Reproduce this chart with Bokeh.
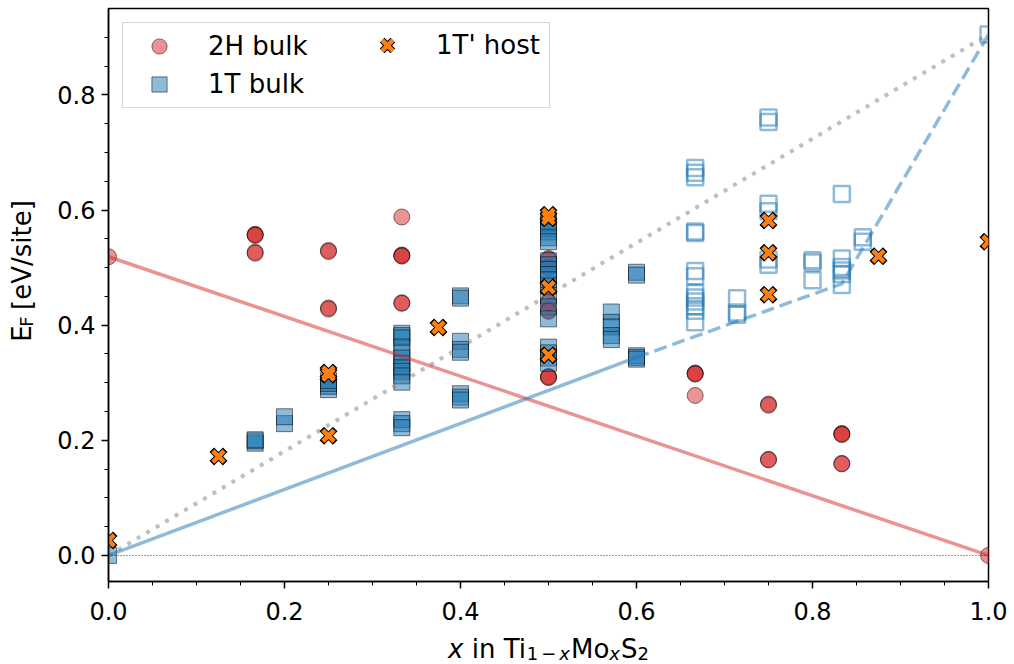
from math import pi
from bokeh.plotting import figure
from bokeh.layouts import row, column
from bokeh.models import Range1d, FixedTicker, Label, Legend, LegendItem, Span
from bokeh.embed import file_html
from bokeh.resources import INLINE
from bokeh.core.properties import value

# ---------------- data ----------------
# 2H bulk (red circles)
h2_x = [0.0,
        1/6, 1/6, 1/6, 1/6, 1/6,
        0.25, 0.25, 0.25, 0.25,
        1/3, 1/3, 1/3, 1/3, 1/3, 1/3,
        0.5, 0.5, 0.5, 0.5, 0.5, 0.5, 0.5, 0.5, 0.5, 0.5,
        2/3, 2/3, 2/3, 2/3,
        0.75, 0.75, 0.75, 0.75,
        5/6, 5/6, 5/6, 5/6, 5/6,
        1.0]
h2_y = [0.519,
        0.558, 0.557, 0.556, 0.527, 0.525,
        0.530, 0.528, 0.430, 0.428,
        0.588, 0.522, 0.521, 0.520, 0.439, 0.438,
        0.516, 0.514, 0.500, 0.441, 0.439, 0.426, 0.424, 0.311, 0.310, 0.309,
        0.317, 0.316, 0.315, 0.278,
        0.263, 0.261, 0.167, 0.166,
        0.212, 0.211, 0.210, 0.160, 0.159,
        0.0]

# 1T bulk, filled (x <= 0.6)
t1_x = [0.0,
        1/6, 1/6, 1/6,
        0.2, 0.2,
        0.25, 0.25, 0.25, 0.25,
        1/3, 1/3, 1/3, 1/3, 1/3, 1/3, 1/3, 1/3, 1/3, 1/3, 1/3, 1/3, 1/3, 1/3,
        0.4, 0.4, 0.4, 0.4, 0.4, 0.4, 0.4, 0.4,
        0.5, 0.5, 0.5, 0.5, 0.5, 0.5, 0.5, 0.5, 0.5, 0.5, 0.5, 0.5, 0.5, 0.5, 0.5, 0.5, 0.5, 0.5, 0.5,
        4/7, 4/7, 4/7, 4/7, 4/7,
        0.6, 0.6, 0.6, 0.6, 0.6]
t1_y = [0.0,
        0.195, 0.199, 0.201,
        0.229, 0.241,
        0.288, 0.294, 0.299, 0.304,
        0.386, 0.382, 0.378, 0.362, 0.352, 0.343, 0.333, 0.326, 0.320, 0.312, 0.301, 0.236, 0.229, 0.222,
        0.451, 0.447, 0.372, 0.358, 0.353, 0.281, 0.275, 0.270,
        0.582, 0.576, 0.568, 0.562, 0.552, 0.545, 0.512, 0.505, 0.497, 0.488, 0.479, 0.468, 0.452, 0.432, 0.411,
        0.362, 0.352, 0.343, 0.334,
        0.423, 0.405, 0.397, 0.382, 0.375,
        0.492, 0.487, 0.347, 0.344, 0.341]

# 1T bulk, open (x > 0.6)
t1o_x = [2/3] * 13 + [5/7] * 3 + [0.75] * 6 + [0.8] * 3 + [5/6] * 6 + [6/7] * 2 + [1.0]
t1o_y = [0.673, 0.665, 0.657, 0.563, 0.560, 0.494, 0.485, 0.456, 0.448, 0.441, 0.433, 0.425, 0.405,
         0.447, 0.422, 0.418,
         0.761, 0.753, 0.611, 0.598, 0.514, 0.505,
         0.513, 0.509, 0.478,
         0.628, 0.516, 0.501, 0.495, 0.489, 0.470,
         0.553, 0.545,
         0.905]

# 1T' host (orange X)
host_x = [0.0, 0.125, 0.25, 0.25, 0.25, 0.375, 0.5, 0.5, 0.5, 0.5, 0.75, 0.75, 0.75, 0.875, 1.0]
host_y = [0.026, 0.172, 0.318, 0.314, 0.208, 0.396, 0.592, 0.586, 0.466, 0.348, 0.582, 0.526, 0.453, 0.520, 0.545]

# hull / reference lines
hull_2h_x = [0.0, 1.0]
hull_2h_y = [0.519, 0.0]
hull_1t_x = [0.0, 0.6]
hull_1t_y = [0.0, 0.344]
hull_1t_meta_x = [0.6, 5/6, 1.0]
hull_1t_meta_y = [0.344, 0.472, 0.905]
ref_x = [0.0, 1.0]
ref_y = [0.0, 0.905]

x_ticks = [0.0, 0.2, 0.4, 0.6, 0.8, 1.0]
x_tick_labels = ["0.0", "0.2", "0.4", "0.6", "0.8", "1.0"]
y_ticks = [0.0, 0.2, 0.4, 0.6, 0.8]
y_tick_labels = ["0.0", "0.2", "0.4", "0.6", "0.8"]
legend_labels = ["2H bulk", "1T bulk", "1T' host"]

# ---------------- layout ----------------
X_RANGE = (0.0, 1.0)
Y_RANGE = (-0.04525, 0.95025)
YL_W = 48                      # width of the strip holding the y title
FL, FT, FW, FH, FB, FR = 60, 8, 880, 573, 50, 24
MAIN_H = FT + FH + FB
MAIN_W = FL + FW + FR
XL_H = 33
FONT = "DejaVu Sans"
RED, BLUE, ORANGE = "#d62728", "#1f77b4", "#ff7f0e"

p = figure(frame_width=FW, frame_height=FH, min_border_left=FL, min_border_top=FT,
           min_border_right=FR, min_border_bottom=FB,
           x_range=Range1d(*X_RANGE), y_range=Range1d(*Y_RANGE),
           output_backend="svg", toolbar_location=None,
           background_fill_color="white", border_fill_color="white")
p.grid.visible = False
p.outline_line_color = "black"
p.outline_line_width = 1.5

p.xaxis.ticker = FixedTicker(ticks=x_ticks, minor_ticks=[i * 0.05 for i in range(21) if i % 4])
p.yaxis.ticker = FixedTicker(ticks=y_ticks, minor_ticks=[i * 0.05 for i in range(19) if i % 4])
p.xaxis.major_label_overrides = dict(zip(x_ticks, x_tick_labels))
p.yaxis.major_label_overrides = dict(zip(y_ticks, y_tick_labels))
for ax in (p.xaxis[0], p.yaxis[0]):
    ax.major_tick_out = 7
    ax.major_tick_in = 0
    ax.minor_tick_out = 4
    ax.minor_tick_in = 0
    ax.major_tick_line_width = 1.5
    ax.minor_tick_line_width = 1
    ax.axis_line_width = 1.5
    ax.major_label_text_font = FONT
    ax.major_label_text_font_size = "24px"
    ax.major_label_text_color = "black"
p.xaxis.major_label_standoff = 13
p.yaxis.major_label_standoff = 6

p.add_layout(Span(location=0, dimension="width", line_color="black", line_width=1,
                  line_dash="1 2", line_alpha=0.8))

# markers
r_h2 = p.scatter(h2_x, h2_y, marker="circle", size=16, fill_color=RED, fill_alpha=0.5,
                 line_color="black", line_alpha=0.5, line_width=1)
r_t1 = p.scatter(t1_x, t1_y, marker="square", size=16, fill_color=BLUE, fill_alpha=0.5,
                 line_color="black", line_alpha=0.5, line_width=1)
p.scatter(t1o_x, t1o_y, marker="square", size=16, fill_color=None,
          line_color=BLUE, line_alpha=0.5, line_width=2.5)

# lines
p.line(ref_x, ref_y, line_color="gray", line_alpha=0.5, line_width=4, line_dash="4 7")
p.line(hull_2h_x, hull_2h_y, line_color=RED, line_alpha=0.5, line_width=3.5)
p.line(hull_1t_x, hull_1t_y, line_color=BLUE, line_alpha=0.5, line_width=3.5)
p.line(hull_1t_meta_x, hull_1t_meta_y, line_color=BLUE, line_alpha=0.5, line_width=3.5,
       line_dash="13 6")

# host X markers (black outline + orange fill)
r_hb = p.scatter(host_x, host_y, marker="x", size=19, line_color="black", line_width=6.5)
r_ho = p.scatter(host_x, host_y, marker="x", size=16, line_color=ORANGE, line_width=4.5)

# legends
leg_common = dict(label_text_font=FONT, label_text_font_size="26px", label_text_color="black",
                  glyph_width=64, glyph_height=38, label_height=24, label_standoff=17)
leg1 = Legend(items=[LegendItem(label=value(legend_labels[0]), renderers=[r_h2]),
                     LegendItem(label=value(legend_labels[1]), renderers=[r_t1])],
              location="top_left", margin=14, padding=4, spacing=0, label_width=337,
              border_line_color="#cccccc", border_line_width=1.5, border_line_alpha=0.8,
              background_fill_color="white", background_fill_alpha=0.8, **leg_common)
leg2 = Legend(items=[LegendItem(label=value(legend_labels[2]), renderers=[r_hb, r_ho])],
              location=(247, 517), margin=0, padding=0, label_width=20,
              border_line_color=None, background_fill_alpha=0, **leg_common)
p.add_layout(leg1)
p.add_layout(leg2)

# ---------------- axis titles (composite text in side strips) ----------------
EM = {'x': 0.592, ' ': 0.318, 'i': 0.278, 'n': 0.634, 'T': 0.611, 'M': 0.863, 'o': 0.612,
      'S': 0.635, '1': 0.636, '2': 0.636, '−': 0.838, 'E': 0.632, 'F': 0.575, '[': 0.390,
      ']': 0.390, 'e': 0.615, 'V': 0.684, '/': 0.337, 's': 0.521, 't': 0.392}

def tw(s, size):
    return sum(EM.get(c, 0.6) for c in s) * size

def strip(w, h):
    f = figure(width=w, height=h, x_range=Range1d(0, w), y_range=Range1d(0, h),
               min_border=0, x_axis_location=None, y_axis_location=None,
               output_backend="svg", toolbar_location=None, outline_line_color=None,
               background_fill_color="white", border_fill_color="white")
    f.grid.visible = False
    return f

MAIN, SUB, SHIFT = 26, 18, 5
SPACE = EM[' '] * MAIN
# x title:  x in Ti_{1-x} Mo_x S_2   (text, size, style, baseline drop, gap after)
xf = strip(YL_W + MAIN_W, XL_H)
xlabel_parts = [("x", MAIN, "italic", 0, SPACE), ("in Ti", MAIN, "normal", 0, 0),
                ("1", SUB, "normal", SHIFT, 3), ("−", SUB, "normal", SHIFT, 3),
                ("x", SUB, "italic", SHIFT, 1),
                ("Mo", MAIN, "normal", 0, 0), ("x", SUB, "italic", SHIFT, 1),
                ("S", MAIN, "normal", 0, 0), ("2", SUB, "normal", SHIFT, 0)]
total = sum(tw(t, s) + g for t, s, _, _, g in xlabel_parts)
cx = YL_W + FL + FW / 2
base_from_bottom = 16
cur = cx - total / 2
for t, s, st, sh, g in xlabel_parts:
    xf.add_layout(Label(x=cur, y=base_from_bottom - sh, text=t, text_font=FONT,
                        text_font_size=f"{s}px", text_font_style=st, text_color="black",
                        text_align="left", text_baseline="alphabetic"))
    cur += tw(t, s) + g

# y title:  E_F [eV/site]
yf = strip(YL_W, MAIN_H)
ylabel_parts = [("E", MAIN, 0, 0), ("F", SUB, 4, SPACE), ("[eV/site]", MAIN, 0, 0)]
basex = 21.5
cur = MAIN_H - 367
for t, s, sh, g in ylabel_parts:
    yf.add_layout(Label(x=basex + sh, y=cur, text=t, text_font=FONT,
                        text_font_size=f"{s}px", text_color="black", angle=pi / 2,
                        text_align="left", text_baseline="alphabetic"))
    cur += tw(t, s) + g

layout = column(row(yf, p, spacing=0), xf, spacing=0)
open("out.html", "w").write(file_html(layout, INLINE))
